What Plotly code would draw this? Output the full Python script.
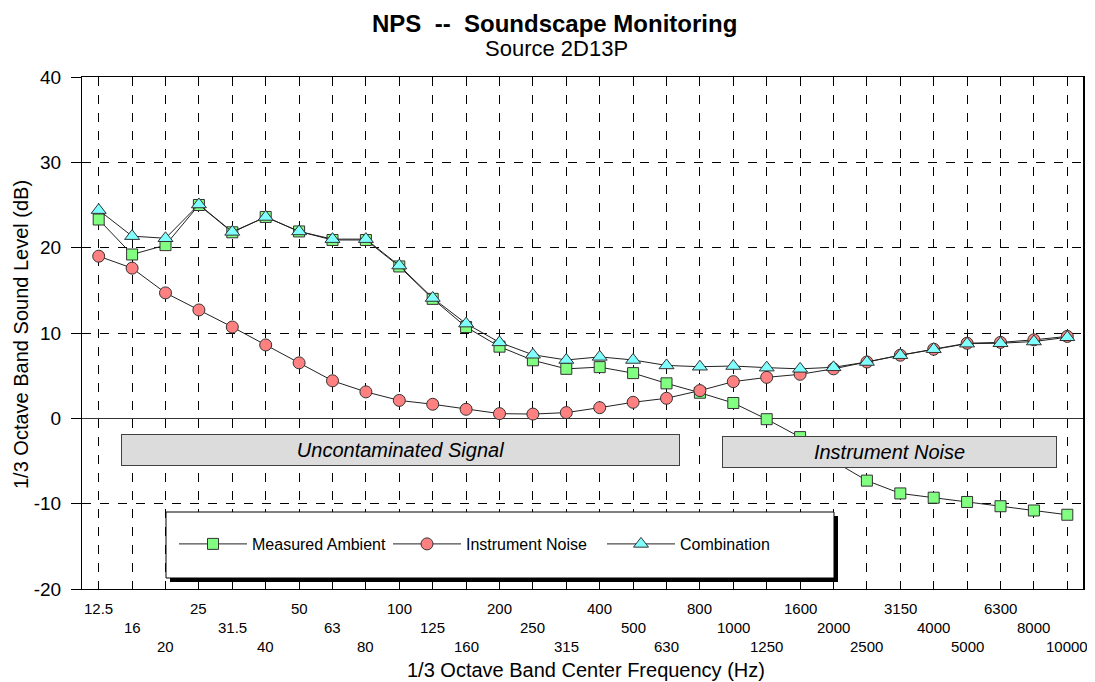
import plotly.graph_objects as go

freqs = ["12.5", "16", "20", "25", "31.5", "40", "50", "63", "80", "100",
         "125", "160", "200", "250", "315", "400", "500", "630", "800", "1000",
         "1250", "1600", "2000", "2500", "3150", "4000", "5000", "6300", "8000", "10000"]

measured_ambient = [23.3, 19.2, 20.3, 25.0, 21.8, 23.6, 21.9, 20.9, 20.9, 17.8,
                    14.0, 10.7, 8.4, 6.8, 5.8, 6.0, 5.3, 4.1, 3.0, 1.8,
                    -0.1, -2.2, -5.0, -7.3, -8.8, -9.3, -9.8, -10.3, -10.8, -11.3]

instrument_noise = [19.0, 17.6, 14.7, 12.7, 10.7, 8.6, 6.5, 4.4, 3.1, 2.1,
                    1.65, 1.06, 0.55, 0.5, 0.67, 1.25, 1.88, 2.35, 3.25, 4.3,
                    4.8, 5.16, 5.8, 6.6, 7.4, 8.1, 8.8, 8.9, 9.2, 9.6]

combination = [24.4, 21.35, 21.1, 25.06, 21.85, 23.6, 21.9, 21.0, 21.0, 17.9,
               14.1, 11.1, 8.9, 7.45, 6.84, 7.2, 6.84, 6.2, 6.05, 6.13,
               5.94, 5.8, 5.98, 6.6, 7.4, 8.1, 8.75, 8.8, 9.0, 9.5]

y_ticks = [-20, -10, 0, 10, 20, 30, 40]
y_tick_labels = ["-20", "-10", "0", "10", "20", "30", "40"]

FONT = "Liberation Sans, Arial, sans-serif"

# window geometry (1095 x 682); the page body adds an 8px offset
W, H = 1095, 682
OFF = 8
L, R, T, B = 82, 1084, 77, 589
def px(xp):
    return (xp - L) / (R - L)
def py(yp):
    return (B - yp) / (B - T)

fig = go.Figure()

fig.add_trace(go.Scatter(
    x=freqs, y=measured_ambient, name="Measured Ambient", mode="lines+markers",
    line=dict(color="#222", width=1),
    marker=dict(symbol="square", size=11, color="#80FF80", line=dict(color="#333", width=1))))
fig.add_trace(go.Scatter(
    x=freqs, y=instrument_noise, name="Instrument Noise", mode="lines+markers",
    line=dict(color="#222", width=1),
    marker=dict(symbol="circle", size=12, color="#FF8080", line=dict(color="#333", width=1))))
fig.add_trace(go.Scatter(
    x=freqs, y=combination, name="Combination", mode="lines+markers",
    line=dict(color="#222", width=1),
    marker=dict(symbol="triangle-up", size=13, color="#80FFFF", line=dict(color="#333", width=1))))

annotations = []
# staggered tick labels
row_y = [608, 627, 646]
for i, f in enumerate(freqs):
    annotations.append(dict(x=i, xref="x", y=py(row_y[i % 3]), yref="paper",
                            text=f, showarrow=False, xanchor="center", yanchor="middle",
                            font=dict(family=FONT, size=15, color="black")))

# titles
annotations.append(dict(x=px(554), y=py(23), xref="paper", yref="paper",
                        text="<b>NPS&nbsp;&nbsp;--&nbsp;&nbsp;Soundscape Monitoring</b>", showarrow=False,
                        xanchor="center", yanchor="middle",
                        font=dict(family=FONT, size=24, color="black")))
annotations.append(dict(x=px(556), y=py(48), xref="paper", yref="paper",
                        text="Source 2D13P", showarrow=False,
                        xanchor="center", yanchor="middle",
                        font=dict(family=FONT, size=22, color="black")))
annotations.append(dict(x=px(586), y=py(670), xref="paper", yref="paper",
                        text="1/3 Octave Band Center Frequency (Hz)", showarrow=False,
                        xanchor="center", yanchor="middle",
                        font=dict(family=FONT, size=20, color="black")))
annotations.append(dict(x=px(21), y=py(335), xref="paper", yref="paper",
                        text="1/3 Octave Band Sound Level (dB)", showarrow=False,
                        textangle=-90, xanchor="center", yanchor="middle",
                        font=dict(family=FONT, size=20, color="black")))

# region labels
annotations.append(dict(x=px(400.5), y=py(450), xref="paper", yref="paper",
                        text="<i>Uncontaminated Signal</i>", showarrow=False,
                        xanchor="center", yanchor="middle", width=557, height=30,
                        bgcolor="#DCDCDC", bordercolor="#404040", borderwidth=1, borderpad=0,
                        font=dict(family=FONT, size=20, color="black")))
annotations.append(dict(x=px(889.5), y=py(451.5), xref="paper", yref="paper",
                        text="<i>Instrument Noise</i>", showarrow=False,
                        xanchor="center", yanchor="middle", width=333, height=30,
                        bgcolor="#DCDCDC", bordercolor="#404040", borderwidth=1, borderpad=0,
                        font=dict(family=FONT, size=20, color="black")))

shapes = [
    # legend shadow
    dict(type="rect", xref="paper", yref="paper", x0=px(170), x1=px(838), y0=py(582), y1=py(516),
         fillcolor="black", line=dict(width=0), layer="above"),
    # legend box
    dict(type="rect", xref="paper", yref="paper", x0=px(166), x1=px(834), y0=py(578), y1=py(512),
         fillcolor="white", line=dict(color="black", width=1), layer="above"),
    # right border thicker
    dict(type="line", xref="paper", yref="paper", x0=1, x1=1, y0=0, y1=1,
         line=dict(color="black", width=2), layer="above"),
]

fig.update_layout(
    width=W - OFF, height=H - OFF,
    margin=dict(l=L - OFF, r=W - R, t=T - OFF, b=H - B, pad=0),
    plot_bgcolor="white", paper_bgcolor="white",
    font=dict(family=FONT, color="black"),
    showlegend=True,
    legend=dict(orientation="h", x=px(174), y=py(544), xanchor="left", yanchor="middle",
                bgcolor="rgba(0,0,0,0)", borderwidth=0, itemwidth=68,
                entrywidth=131, entrywidthmode="pixels",
                font=dict(family=FONT, size=16, color="black")),
    xaxis=dict(type="category", range=[-0.5, 29.5], showticklabels=False,
               showgrid=True, gridcolor="black", gridwidth=1, griddash="dash",
               ticks="inside", ticklen=8, tickcolor="black", mirror="allticks",
               showline=True, linecolor="black", linewidth=1, zeroline=False),
    xaxis2=dict(overlaying="x", anchor="y", side="bottom", type="linear",
                range=[-0.5, 29.5], tickmode="array", tickvals=list(range(len(freqs))),
                showticklabels=False, ticks="outside", ticklen=9, tickcolor="black",
                showgrid=False, showline=False, zeroline=False),
    yaxis=dict(range=[-20, 40], tickmode="array", tickvals=y_ticks, ticktext=y_tick_labels,
               ticks="outside", ticklen=10, ticklabelstandoff=6,
               tickcolor="black", showline=True, linecolor="black", linewidth=1, mirror=True,
               showgrid=True, gridcolor="black", gridwidth=1, griddash="dash",
               zeroline=True, zerolinecolor="#333", zerolinewidth=1,
               tickfont=dict(family=FONT, size=19, color="black")),
    annotations=annotations,
    shapes=shapes,
)

fig.write_html("out.html")
